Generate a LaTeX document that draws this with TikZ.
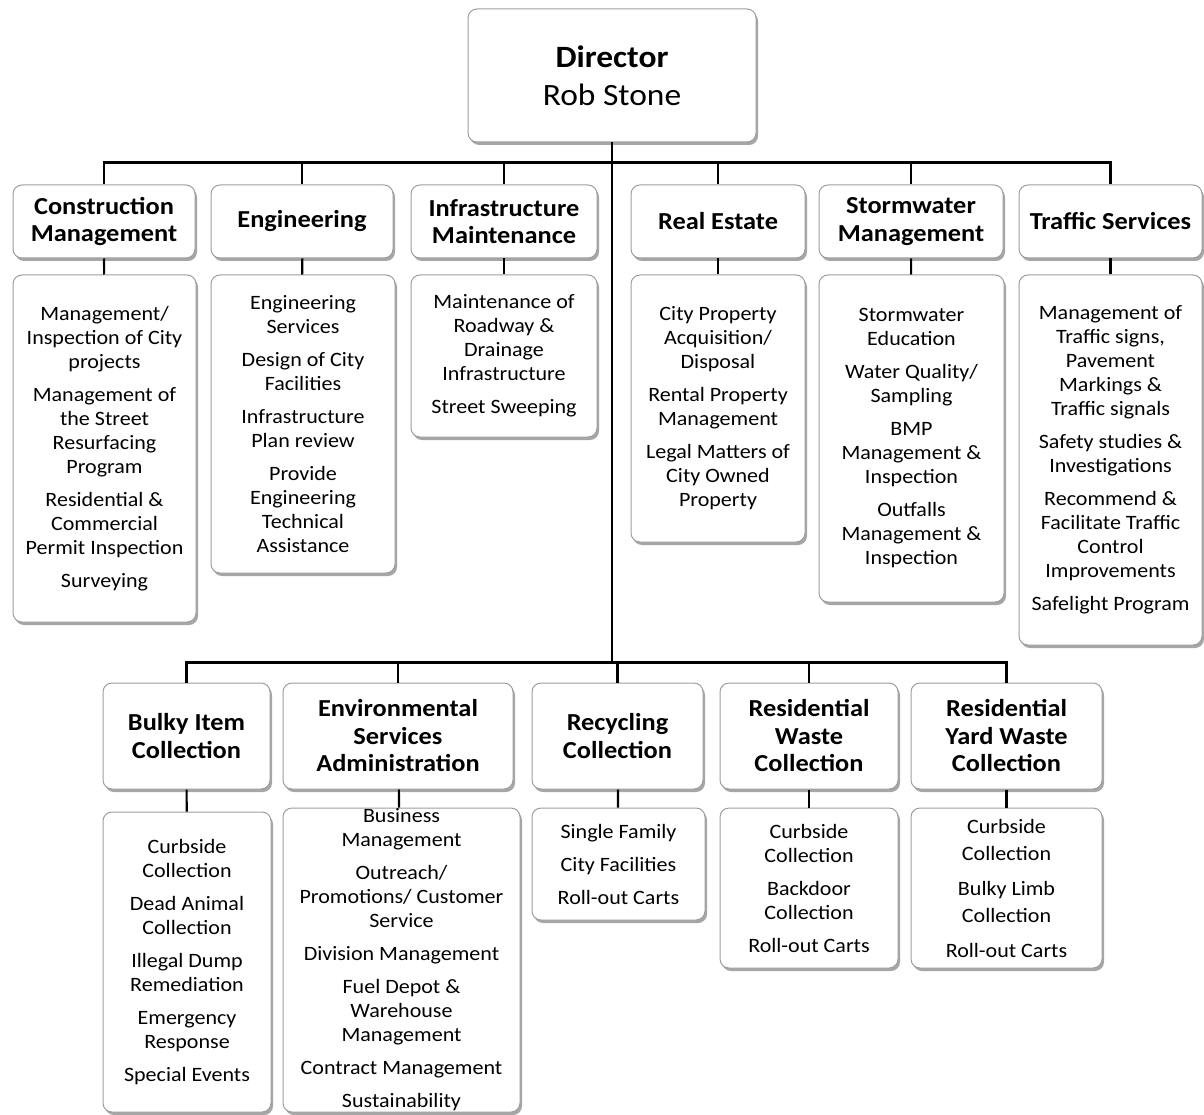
\documentclass[tikz,border=0pt]{standalone}
\usepackage{fontspec}
\setmainfont{Carlito}[FakeStretch=1.08]
\usetikzlibrary{shadows}

\tikzset{
  box/.style={draw=black!38, fill=white, line width=1pt, rounded corners=9pt,
    align=center, inner sep=0pt,
    drop shadow={shadow xshift=2pt, shadow yshift=-3pt, opacity=0.35, fill=black}},
  headbox/.style={box, font=\fontsize{24.4}{27.5}\selectfont\bfseries},
  listbox/.style={box, font=\fontsize{20.4}{24}\selectfont},
  conn/.style={line width=2.2pt, black}
}

\begin{document}
\begin{tikzpicture}[x=1pt, y=-1pt]
  \useasboundingbox (0,0) rectangle (1204,1115);
  \clip (0,0) rectangle (1204,1115);

  \node[box, minimum width=288, minimum height=133,
        font=\fontsize{31}{38}\selectfont] (dir) at (612,75.5)
        {{\bfseries Director}\\Rob Stone};

  \node[headbox, minimum width=182, minimum height=73] (cm) at (104,221.5) {Construction\\Management};
  \node[headbox, minimum width=182, minimum height=73] (eng) at (302,221.5) {Engineering};
  \node[headbox, minimum width=186, minimum height=73] (infra) at (504,221.5) {Infrastructure\\Maintenance};
  \node[headbox, minimum width=174, minimum height=73] (re) at (718,221.5) {Real Estate};
  \node[headbox, minimum width=184, minimum height=73] (sw) at (911,221.5) {Stormwater\\Management};
  \node[headbox, minimum width=183, minimum height=73] (ts) at (1110.5,221.5) {Traffic Services};

  \node[listbox, minimum width=183, minimum height=347] (cmlist) at (104.5,448.5)
    {Management/\\Inspection of City\\projects\\[9pt]Management of\\the Street\\Resurfacing\\Program\\[9pt]Residential \&\\Commercial\\Permit Inspection\\[9pt]Surveying};
  \node[listbox, minimum width=184, minimum height=298] (englist) at (303,424)
    {Engineering\\Services\\[9pt]Design of City\\Facilities\\[9pt]Infrastructure\\Plan review\\[9pt]Provide\\Engineering\\Technical\\Assistance};
  \node[listbox, minimum width=186, minimum height=162] (infralist) at (504,356)
    {Maintenance of\\Roadway \&\\Drainage\\Infrastructure\\[9pt]Street Sweeping};
  \node[listbox, minimum width=174, minimum height=267] (relist) at (718,408.5)
    {City Property\\Acquisition/\\Disposal\\[9pt]Rental Property\\Management\\[9pt]Legal Matters of\\City Owned\\Property};
  \node[listbox, minimum width=185, minimum height=327] (swlist) at (911.5,438.5)
    {Stormwater\\Education\\[9pt]Water Quality/\\Sampling\\[9pt]BMP\\Management \&\\Inspection\\[9pt]Outfalls\\Management \&\\Inspection};
  \node[listbox, minimum width=183, minimum height=370] (tslist) at (1110.5,460)
    {Management of\\Traffic signs,\\Pavement\\Markings \&\\Traffic signals\\[9pt]Safety studies \&\\Investigations\\[9pt]Recommend \&\\Facilitate Traffic\\Control\\Improvements\\[9pt]Safelight Program};

  \node[headbox, minimum width=167, minimum height=106] (bulky) at (186.5,736) {Bulky Item\\Collection};
  \node[headbox, minimum width=230, minimum height=106] (esa) at (398,736) {Environmental\\Services\\Administration};
  \node[headbox, minimum width=171, minimum height=106] (rec) at (617.5,736) {Recycling\\Collection};
  \node[headbox, minimum width=178, minimum height=106] (rw) at (809,736) {Residential\\Waste\\Collection};
  \node[headbox, minimum width=191, minimum height=106] (ryw) at (1006.5,736) {Residential\\Yard Waste\\Collection};

  \node[listbox, minimum width=168, minimum height=300] (bulkylist) at (187,962)
    {Curbside\\Collection\\[9pt]Dead Animal\\Collection\\[9pt]Illegal Dump\\Remediation\\[9pt]Emergency\\Response\\[9pt]Special Events};
  \node[listbox, minimum width=237, minimum height=304] (esalist) at (401.5,960)
    {Business\\Management\\[9pt]Outreach/\\Promotions/ Customer\\Service\\[9pt]Division Management\\[9pt]Fuel Depot \&\\Warehouse\\Management\\[9pt]Contract Management\\[9pt]Sustainability};
  \node[listbox, minimum width=173, minimum height=112] (reclist) at (618.5,864)
    {Single Family\\[9pt]City Facilities\\[9pt]Roll-out Carts};
  \node[listbox, minimum width=178, minimum height=160] (rwlist) at (809,888)
    {Curbside\\Collection\\[9pt]Backdoor\\Collection\\[9pt]Roll-out Carts};
  \node[listbox, minimum width=191, minimum height=160,
        font=\fontsize{20.4}{27.5}\selectfont] (rywlist) at (1006.5,888)
    {Curbside\\Collection\\[7pt]Bulky Limb\\Collection\\[7pt]Roll-out Carts};

  \begin{scope}[conn]
    \draw (dir.south) -- ++(0,20) -| (cm.north);
    \draw (dir.south) -- ++(0,20) -| (eng.north);
    \draw (dir.south) -- ++(0,20) -| (infra.north);
    \draw (dir.south) -- ++(0,20) -| (re.north);
    \draw (dir.south) -- ++(0,20) -| (sw.north);
    \draw (dir.south) -- ++(0,20) -| (ts.north);
    \draw (dir.south) -- ++(0,520) -| (bulky.north);
    \draw (dir.south) -- ++(0,520) -| (esa.north);
    \draw (dir.south) -- ++(0,520) -| (rec.north);
    \draw (dir.south) -- ++(0,520) -| (rw.north);
    \draw (dir.south) -- ++(0,520) -| (ryw.north);
    \draw (cm) -- (cmlist);
    \draw (eng) -- (englist);
    \draw (infra) -- (infralist);
    \draw (re) -- (relist);
    \draw (sw) -- (swlist);
    \draw (ts) -- (tslist);
    \draw (bulky) -- (bulkylist);
    \draw (esa) -- (esalist);
    \draw (rec) -- (reclist);
    \draw (rw) -- (rwlist);
    \draw (ryw) -- (rywlist);
  \end{scope}
\end{tikzpicture}
\end{document}
